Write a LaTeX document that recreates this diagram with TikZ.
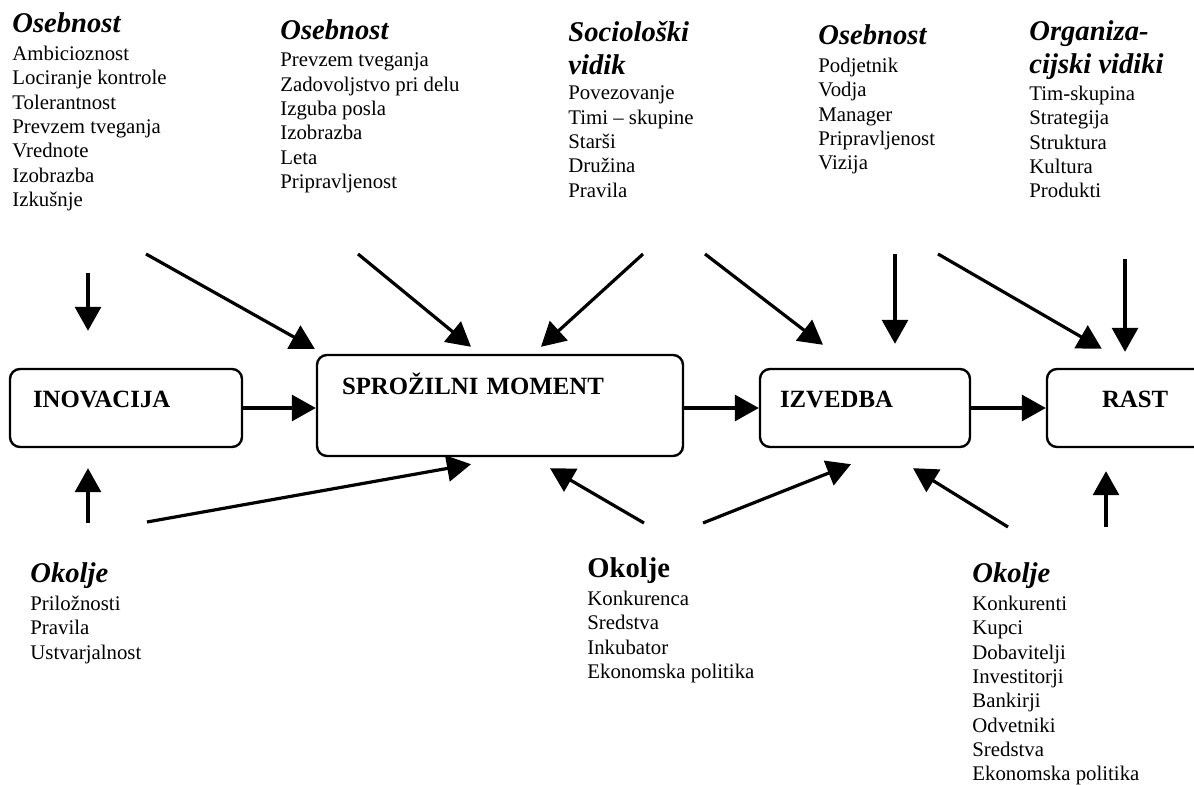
\documentclass[tikz,border=0pt]{standalone}
\usepackage{fontspec}
\setmainfont{Liberation Serif}[BoldFont={Liberation Serif Bold}, ItalicFont={Liberation Serif Italic}, BoldItalicFont={Liberation Serif Bold Italic}]
\usetikzlibrary{arrows.meta,calc}

\newcommand{\bodyfont}{\fontsize{10.4}{12.15}\selectfont}
\newcommand{\headfont}{\fontsize{14.3}{16.5}\selectfont\bfseries\itshape}
\newcommand{\stagefont}{\fontsize{12.4}{14}\selectfont\bfseries}

\begin{document}
\begin{tikzpicture}[x=0.5pt, y=-0.5pt,
    stage/.style={draw, line width=1.2pt, rounded corners=5pt, font=\stagefont,
        align=left, text height=8pt, text depth=8pt, minimum height=39pt},
    head/.style={anchor=base west, inner sep=0pt, font=\headfont},
    headtwo/.style={anchor=north west, inner sep=0pt, font=\headfont, align=left},
    list/.style={anchor=north west, inner sep=0pt, font=\bodyfont, align=left},
    arr/.style={-{Triangle[length=12pt, width=13pt]}, line width=1.6pt}]
    \useasboundingbox (0,0) rectangle (1194,785);

    % Stages
    \node[stage, text width=93pt, inner xsep=11.5pt] (ino) at (126,408) {INOVACIJA};
    \node[stage, text width=158pt, inner xsep=12.5pt, text depth=18.5pt, minimum height=50.5pt] (spr) at (500,405.5) {SPROŽILNI MOMENT};
    \node[stage, text width=85pt, inner xsep=10pt] (izv) at (865,408) {IZVEDBA};
    \node[stage, text width=36pt, inner xsep=27.5pt] (rast) at (1138,408) {RAST};

    \draw[arr] (ino.east) -- (ino.east -| spr.west);
    \draw[arr] (spr.east |- izv.west) -- (izv.west);
    \draw[arr] (izv.east) -- (rast.west);

    % Upper factors
    \node[head] (hos1) at (12,33) {Osebnost};
    \node[list] (los1) at (12,45.8) {Ambicioznost\\Lociranje kontrole\\Tolerantnost\\Prevzem tveganja\\Vrednote\\Izobrazba\\Izkušnje};
    \node[head] (hos2) at (280,40) {Osebnost};
    \node[list] (los2) at (280,52.8) {Prevzem tveganja\\Zadovoljstvo pri delu\\Izguba posla\\Izobrazba\\Leta\\Pripravljenost};
    \node[headtwo] (hsoc) at (568,20.5) {Sociološki\\vidik};
    \node[list] (lsoc) at (568,85.8) {Povezovanje\\Timi – skupine\\Starši\\Družina\\Pravila};
    \node[head] (hos3) at (818,45) {Osebnost};
    \node[list] (los3) at (818,57.8) {Podjetnik\\Vodja\\Manager\\Pripravljenost\\Vizija};
    \node[headtwo] (horg) at (1029,20.4) {Organiza-\\cijski vidiki};
    \node[list] (lorg) at (1029,85.8) {Tim-skupina\\Strategija\\Struktura\\Kultura\\Produkti};

    % Lower factors
    \node[head] (hok1) at (30,583) {Okolje};
    \node[list] (lok1) at (30,595.8) {Priložnosti\\Pravila\\Ustvarjalnost};
    \node[head, font=\fontsize{14.3}{16.5}\selectfont\bfseries] (hok2) at (587,578) {Okolje};
    \node[list] (lok2) at (587,590.8) {Konkurenca\\Sredstva\\Inkubator\\Ekonomska politika};
    \node[head] (hok3) at (972,583) {Okolje};
    \node[list] (lok3) at (972,595.8) {Konkurenti\\Kupci\\Dobavitelji\\Investitorji\\Bankirji\\Odvetniki\\Sredstva\\Ekonomska politika};

    % Arrow tails
    \coordinate (t1) at (88,273);
    \coordinate (t2) at (146,254);
    \coordinate (t3) at (358,254);
    \coordinate (t4) at (643,254);
    \coordinate (t5) at (705,254);
    \coordinate (t6) at (895,254);
    \coordinate (t7) at (938,254);
    \coordinate (t8) at (1125,259);
    \coordinate (b1) at (88,523);
    \coordinate (b2) at (147,522);
    \coordinate (b3) at (644,523);
    \coordinate (b4) at (703,523);
    \coordinate (b5) at (1008,527);
    \coordinate (b6) at (1106,527);

    % Influences from above
    \draw[arr] (t1) -- ($(t1 |- ino.north)+(0,-37)$);
    \draw[arr] (t2) -- ($(spr.north west)+(-1,-5)$);
    \draw[arr] (t3) -- ($(spr.north)+(-29,-7)$);
    \draw[arr] (t4) -- ($(spr.north)+(41,-7)$);
    \draw[arr] (t5) -- ($(izv.north)+(-42,-23)$);
    \draw[arr] (t6) -- ($(t6 |- izv.north)+(0,-24)$);
    \draw[arr] (t7) -- ($(rast.north west)+(56,-19)$);
    \draw[arr] (t8) -- ($(t8 |- rast.north)+(0,-16)$);

    % Influences from below
    \draw[arr] (b1) -- ($(b1 |- ino.south)+(0,20)$);
    \draw[arr] (b2) -- ($(spr.south)+(-29,7)$);
    \draw[arr] (b3) -- ($(spr.south)+(50,11)$);
    \draw[arr] (b4) -- ($(izv.south)+(-14,16)$);
    \draw[arr] (b5) -- ($(izv.south)+(48,20)$);
    \draw[arr] (b6) -- ($(b6 |- rast.south)+(0,23)$);
\end{tikzpicture}
\end{document}
